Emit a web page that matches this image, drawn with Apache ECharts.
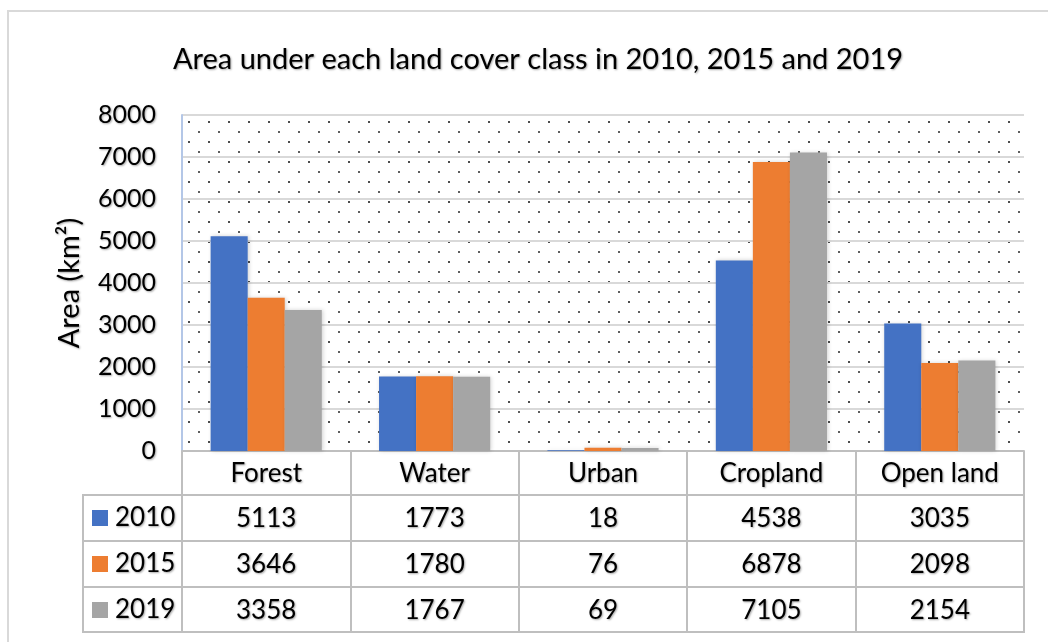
<!DOCTYPE html>
<html>
<head>
<meta charset="utf-8">
<script src="https://cdn.jsdelivr.net/npm/echarts@6/dist/echarts.min.js"></script>
<style>
  html, body { margin: 0; padding: 0; background: #fff; }
  #main { width: 1048px; height: 642px; }
</style>
</head>
<body>
<div id="main"></div>
<script>
// land cover classes and yearly areas (km2)
var categories = ['Forest', 'Water', 'Urban', 'Cropland', 'Open land'];
var years = ['2010', '2015', '2019'];
var area2010 = [5113, 1773, 18, 4538, 3035];
var area2015 = [3646, 1780, 76, 6878, 2098];
var area2019 = [3358, 1767, 69, 7105, 2154];
var yTicks = [0, 1000, 2000, 3000, 4000, 5000, 6000, 7000, 8000];

var seriesData = [area2010, area2015, area2019];
var colors = ['#4472C4', '#ED7D31', '#A5A5A5'];
var font = 'Lato, "Open Sans", sans-serif';
var lineGray = '#bfbfbf';
// soft text shadow like the office rendering
var txt = { color: '#000', fontFamily: font, textShadowColor: 'rgba(0,0,0,0.35)', textShadowBlur: 2, textShadowOffsetX: 1, textShadowOffsetY: 1 };

// dotted plot background, like the excel pattern fill
function dotPattern() {
  var c = document.createElement('canvas');
  c.width = 20; c.height = 20;
  var ctx = c.getContext('2d');
  ctx.fillStyle = '#fff';
  ctx.fillRect(0, 0, 20, 20);
  ctx.fillStyle = '#4d4d4d';
  ctx.fillRect(8, 1, 2, 2);
  ctx.fillStyle = '#5e5e5e';
  ctx.fillRect(18, 11, 2, 2);
  return c;
}

var chart = echarts.init(document.getElementById('main'));

// table rows below the axis: category name, then one row per year
function tableLabel(value, idx) {
  var rows = ['{h|' + value + '}'];
  for (var i = 0; i < seriesData.length; i++) {
    rows.push('{v|' + seriesData[i][idx] + '}');
  }
  return rows.join('\n');
}

// table grid lines (horizontal rows + left border of legend column)
var tableLines = [];
[495, 541, 587, 632].forEach(function (y) {
  tableLines.push({
    type: 'line',
    shape: { x1: 83, y1: y, x2: 1025, y2: y },
    style: { stroke: lineGray, lineWidth: 2 }
  });
});
tableLines.push({
  type: 'line',
  shape: { x1: 83, y1: 494, x2: 83, y2: 633 },
  style: { stroke: lineGray, lineWidth: 2 }
});
// outer chart frame
tableLines.push({
  type: 'rect',
  shape: { x: 8, y: 11, width: 1100, height: 700 },
  style: { fill: null, stroke: '#d9d9d9', lineWidth: 2 },
  z: -1
});

chart.setOption({
  backgroundColor: '#fff',
  animation: false,
  color: colors,
  title: {
    text: 'Area under each land cover class in 2010, 2015 and 2019',
    left: 533,
    textAlign: 'center',
    top: 40,
    textStyle: Object.assign({}, txt, { fontSize: 29, fontWeight: 'normal' })
  },
  legend: {
    orient: 'vertical',
    left: 92,
    top: 495,
    padding: 0,
    height: 160,
    itemWidth: 16,
    itemHeight: 16,
    itemGap: 0,
    selectedMode: false,
    icon: 'rect',
    textStyle: Object.assign({}, txt, { fontSize: 26, lineHeight: 46, height: 46, padding: [0, 0, 0, 2] }),
    data: years
  },
  grid: {
    left: 182,
    right: 24,
    top: 115,
    bottom: 191,
    show: true,
    borderWidth: 0,
    backgroundColor: { image: dotPattern(), repeat: 'repeat' }
  },
  xAxis: {
    type: 'category',
    data: categories,
    axisLine: { show: true, lineStyle: { color: lineGray, width: 2 } },
    axisTick: { show: true, interval: 0, length: 181, lineStyle: { color: lineGray, width: 2 } },
    axisLabel: {
      interval: 0,
      margin: 0,
      formatter: tableLabel,
      rich: {
        h: Object.assign({}, txt, { fontSize: 26, lineHeight: 45 }),
        v: Object.assign({}, txt, { fontSize: 26, lineHeight: 46 })
      }
    }
  },
  yAxis: {
    type: 'value',
    min: yTicks[0],
    max: yTicks[yTicks.length - 1],
    interval: 1000,
    name: 'Area (km²)',
    nameLocation: 'middle',
    nameRotate: 90,
    nameGap: 98,
    nameTextStyle: Object.assign({}, txt, { fontSize: 29 }),
    axisLine: { show: true, lineStyle: { color: '#b4c7e7', width: 2 } },
    axisTick: { show: false },
    axisLabel: Object.assign({}, txt, { fontSize: 25, margin: 26, formatter: function (v) { return String(v); } }),
    splitLine: { show: true, lineStyle: { color: '#d9d9d9', width: 2 } }
  },
  series: years.map(function (y, i) {
    return {
      name: y,
      type: 'bar',
      data: seriesData[i],
      barGap: '0%',
      barCategoryGap: '34%',
      itemStyle: {
        color: colors[i],
        shadowBlur: 4,
        shadowColor: 'rgba(0,0,0,0.18)',
        shadowOffsetX: 1,
        shadowOffsetY: 0
      }
    };
  }),
  graphic: tableLines
});
</script>
</body>
</html>
